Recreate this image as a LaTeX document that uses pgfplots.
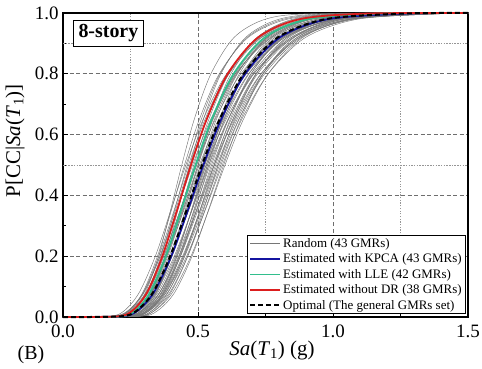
\documentclass[border=0pt]{standalone}
\usepackage{fontspec}
\setmainfont{Liberation Serif}
\usepackage{pgfplots}
\pgfplotsset{compat=1.18}
\definecolor{kpca}{RGB}{20,20,160}
\definecolor{lle}{RGB}{50,190,140}
\definecolor{ndr}{RGB}{220,30,30}
\definecolor{rndc}{RGB}{118,118,118}
\definecolor{gridc}{RGB}{110,110,110}
\definecolor{mgridc}{RGB}{150,150,150}
\begin{document}
\begin{tikzpicture}
\useasboundingbox (-63bp,-52bp) rectangle (419bp,317bp);
\begin{axis}[
 at={(0,0)}, anchor=south west,
 scale only axis, width=405bp, height=304bp,
 xmin=0, xmax=1.5, ymin=0, ymax=1,
 xtick={0,0.5,1,1.5}, ytick={0,0.2,0.4,0.6,0.8,1},
 minor x tick num=1, minor y tick num=1,
 tick align=inside, xtick pos=bottom, ytick pos=left,
 major tick length=5bp, minor tick length=3bp,
 tick style={black, line width=0.8bp},
 axis line style={line width=1.1bp},
 xmajorgrids, ymajorgrids, xminorgrids,
 major grid style={gridc, line width=0.6bp, dash pattern=on 4bp off 2.5bp},
 minor grid style={mgridc, line width=0.5bp, dash pattern=on 1.2bp off 1.5bp},
 extra y ticks={0.5,0.9}, extra y tick labels={},
 extra y tick style={grid=major, major grid style={mgridc, line width=0.5bp, dash pattern=on 1.5bp off 1.2bp}, major tick length=0pt},
 xticklabel={\pgfmathprintnumber[fixed,fixed zerofill,precision=1,assume math mode=true]{\tick}},
 yticklabel={\pgfmathprintnumber[fixed,fixed zerofill,precision=1,assume math mode=true]{\tick}},
 ticklabel style={font=\fontsize{19}{21}\selectfont},
 xticklabel style={yshift=-4bp},
 yticklabel style={xshift=-1bp},
 label style={font=\fontsize{21}{23}\selectfont},
 xlabel={\textit{Sa}(\textit{T}\textsubscript{1}) (g)},
 ylabel={P[CC|\textit{Sa}(\textit{T}\textsubscript{1})]},
 xlabel style={at={(axis description cs:0.516,-0.11)}, anchor=center},
 ylabel style={at={(axis description cs:-0.118,0.58)}, anchor=center},
 legend style={at={(axis description cs:0.995,0.01)}, anchor=south east, draw=black, line width=0.6bp, font=\fontsize{13}{15}\selectfont, inner xsep=2bp, inner ysep=1bp, row sep=1bp, cells={anchor=west}},
 legend image code/.code={\draw[#1] (0bp,0bp) -- (30bp,0bp);},
 clip=false,
 rnd/.style={rndc, line width=0.45bp, smooth},
 hi/.style={line width=1.8bp, smooth},
]
\addplot[rnd] coordinates {(0,0) (0.190,0.002) (0.243,0.02) (0.295,0.08) (0.350,0.2) (0.401,0.35) (0.450,0.5) (0.505,0.65) (0.579,0.8) (0.686,0.92) (0.833,0.98) (1.067,0.998) (1.5,1)};
\addlegendentry{Random (43 GMRs)}
\addplot[rnd,forget plot] coordinates {(0,0) (0.205,0.002) (0.259,0.02) (0.310,0.08) (0.363,0.2) (0.413,0.35) (0.460,0.5) (0.512,0.65) (0.582,0.8) (0.682,0.92) (0.818,0.98) (1.030,0.998) (1.5,1)};
\addplot[rnd,forget plot] coordinates {(0,0) (0.185,0.002) (0.241,0.02) (0.297,0.08) (0.355,0.2) (0.411,0.35) (0.465,0.5) (0.526,0.65) (0.609,0.8) (0.729,0.92) (0.897,0.98) (1.168,0.998) (1.5,1)};
\addplot[rnd,forget plot] coordinates {(0,0) (0.222,0.002) (0.276,0.02) (0.326,0.08) (0.378,0.2) (0.425,0.35) (0.470,0.5) (0.520,0.65) (0.585,0.8) (0.677,0.92) (0.802,0.98) (0.993,0.998) (1.5,1)};
\addplot[rnd,forget plot] coordinates {(0,0) (0.200,0.002) (0.257,0.02) (0.312,0.08) (0.369,0.2) (0.423,0.35) (0.475,0.5) (0.533,0.65) (0.612,0.8) (0.724,0.92) (0.880,0.98) (1.126,0.998) (1.5,1)};
\addplot[rnd,forget plot] coordinates {(0,0) (0.180,0.002) (0.239,0.02) (0.298,0.08) (0.360,0.2) (0.421,0.35) (0.480,0.5) (0.547,0.65) (0.639,0.8) (0.774,0.92) (0.965,0.98) (1.277,0.998) (1.5,1)};
\addplot[rnd,forget plot] coordinates {(0,0) (0.217,0.002) (0.273,0.02) (0.327,0.08) (0.383,0.2) (0.435,0.35) (0.485,0.5) (0.540,0.65) (0.614,0.8) (0.719,0.92) (0.862,0.98) (1.086,0.998) (1.5,1)};
\addplot[rnd,forget plot] coordinates {(0,0) (0.195,0.002) (0.254,0.02) (0.313,0.08) (0.374,0.2) (0.433,0.35) (0.490,0.5) (0.554,0.65) (0.642,0.8) (0.768,0.92) (0.946,0.98) (1.231,0.998) (1.5,1)};
\addplot[rnd,forget plot] coordinates {(0,0) (0.209,0.002) (0.267,0.02) (0.325,0.08) (0.385,0.2) (0.441,0.35) (0.495,0.5) (0.556,0.65) (0.637,0.8) (0.755,0.92) (0.917,0.98) (1.174,0.998) (1.5,1)};
\addplot[rnd,forget plot] coordinates {(0,0) (0.237,0.002) (0.293,0.02) (0.347,0.08) (0.402,0.2) (0.452,0.35) (0.500,0.5) (0.553,0.65) (0.622,0.8) (0.721,0.92) (0.853,0.98) (1.057,0.998) (1.5,1)};
\addplot[rnd,forget plot] coordinates {(0,0) (0.190,0.002) (0.251,0.02) (0.313,0.08) (0.379,0.2) (0.443,0.35) (0.505,0.5) (0.576,0.65) (0.672,0.8) (0.814,0.92) (1.015,0.98) (1.344,0.998) (1.5,1)};
\addplot[rnd,forget plot] coordinates {(0,0) (0.228,0.002) (0.287,0.02) (0.344,0.08) (0.403,0.2) (0.458,0.35) (0.510,0.5) (0.568,0.65) (0.646,0.8) (0.756,0.92) (0.906,0.98) (1.142,0.998) (1.5,1)};
\addplot[rnd,forget plot] coordinates {(0,0) (0.205,0.002) (0.267,0.02) (0.329,0.08) (0.393,0.2) (0.455,0.35) (0.515,0.5) (0.583,0.65) (0.674,0.8) (0.807,0.92) (0.994,0.98) (1.294,0.998) (1.5,1)};
\addplot[rnd,forget plot] coordinates {(0,0) (0.219,0.002) (0.281,0.02) (0.341,0.08) (0.404,0.2) (0.463,0.35) (0.520,0.5) (0.584,0.65) (0.669,0.8) (0.793,0.92) (0.963,0.98) (1.233,0.998) (1.5,1)};
\addplot[rnd,forget plot] coordinates {(0,0) (0.248,0.002) (0.308,0.02) (0.364,0.08) (0.422,0.2) (0.475,0.35) (0.525,0.5) (0.580,0.65) (0.653,0.8) (0.757,0.92) (0.896,0.98) (1.110,0.998) (1.5,1)};
\addplot[rnd,forget plot] coordinates {(0,0) (0.199,0.002) (0.264,0.02) (0.329,0.08) (0.398,0.2) (0.465,0.35) (0.530,0.5) (0.604,0.65) (0.706,0.8) (0.855,0.92) (1.066,0.98) (1.410,0.998) (1.5,1)};
\addplot[rnd,forget plot] coordinates {(0,0) (0.237,0.002) (0.298,0.02) (0.358,0.08) (0.419,0.2) (0.476,0.35) (0.530,0.5) (0.590,0.65) (0.671,0.8) (0.785,0.92) (0.942,0.98) (1.186,0.998) (1.5,1)};
\addplot[rnd,forget plot] coordinates {(0,0) (0.226,0.002) (0.289,0.02) (0.351,0.08) (0.416,0.2) (0.477,0.35) (0.535,0.5) (0.600,0.65) (0.689,0.8) (0.816,0.92) (0.991,0.98) (1.269,0.998) (1.5,1)};
\addplot[rnd,forget plot] coordinates {(0,0) (0.215,0.002) (0.280,0.02) (0.344,0.08) (0.412,0.2) (0.477,0.35) (0.540,0.5) (0.611,0.65) (0.707,0.8) (0.847,0.92) (1.042,0.98) (1.356,0.998) (1.5,1)};
\addplot[rnd,forget plot] coordinates {(0,0) (0.255,0.002) (0.317,0.02) (0.375,0.08) (0.434,0.2) (0.489,0.35) (0.540,0.5) (0.597,0.65) (0.672,0.8) (0.778,0.92) (0.921,0.98) (1.141,0.998) (1.5,1)};
\addplot[rnd,forget plot] coordinates {(0,0) (0.230,0.002) (0.294,0.02) (0.358,0.08) (0.423,0.2) (0.486,0.35) (0.545,0.5) (0.612,0.65) (0.702,0.8) (0.831,0.92) (1.009,0.98) (1.292,0.998) (1.5,1)};
\addplot[rnd,forget plot] coordinates {(0,0) (0.246,0.002) (0.309,0.02) (0.371,0.08) (0.435,0.2) (0.494,0.35) (0.550,0.5) (0.613,0.65) (0.696,0.8) (0.815,0.92) (0.978,0.98) (1.231,0.998) (1.5,1)};
\addplot[rnd,forget plot] coordinates {(0,0) (0.192,0.002) (0.254,0.02) (0.316,0.08) (0.383,0.2) (0.447,0.35) (0.510,0.5) (0.581,0.65) (0.679,0.8) (0.822,0.92) (1.025,0.98) (1.357,0.998) (1.5,1)};
\addplot[rnd,forget plot] coordinates {(0,0) (0.234,0.002) (0.300,0.02) (0.364,0.08) (0.431,0.2) (0.494,0.35) (0.555,0.5) (0.623,0.65) (0.715,0.8) (0.846,0.92) (1.028,0.98) (1.316,0.998) (1.5,1)};
\addplot[rnd,forget plot] coordinates {(0,0) (0.223,0.002) (0.290,0.02) (0.357,0.08) (0.428,0.2) (0.495,0.35) (0.560,0.5) (0.633,0.65) (0.733,0.8) (0.878,0.92) (1.081,0.98) (1.407,0.998) (1.5,1)};
\addplot[rnd,forget plot] coordinates {(0,0) (0.265,0.002) (0.328,0.02) (0.389,0.08) (0.450,0.2) (0.507,0.35) (0.560,0.5) (0.619,0.65) (0.697,0.8) (0.807,0.92) (0.955,0.98) (1.184,0.998) (1.5,1)};
\addplot[rnd,forget plot] coordinates {(0,0) (0.252,0.002) (0.318,0.02) (0.381,0.08) (0.446,0.2) (0.507,0.35) (0.565,0.5) (0.629,0.65) (0.715,0.8) (0.837,0.92) (1.004,0.98) (1.265,0.998) (1.5,1)};
\addplot[rnd,forget plot] coordinates {(0,0) (0.240,0.002) (0.308,0.02) (0.374,0.08) (0.443,0.2) (0.508,0.35) (0.570,0.5) (0.640,0.65) (0.734,0.8) (0.869,0.92) (1.056,0.98) (1.352,0.998) (1.5,1)};
\addplot[rnd,forget plot] coordinates {(0,0) (0.186,0.002) (0.246,0.02) (0.307,0.08) (0.372,0.2) (0.434,0.35) (0.495,0.5) (0.564,0.65) (0.659,0.8) (0.798,0.92) (0.995,0.98) (1.317,0.998) (1.5,1)};
\addplot[rnd,forget plot] coordinates {(0,0) (0.272,0.002) (0.337,0.02) (0.399,0.08) (0.462,0.2) (0.520,0.35) (0.575,0.5) (0.636,0.65) (0.716,0.8) (0.829,0.92) (0.981,0.98) (1.215,0.998) (1.5,1)};
\addplot[rnd,forget plot] coordinates {(0,0) (0.245,0.002) (0.313,0.02) (0.381,0.08) (0.451,0.2) (0.517,0.35) (0.580,0.5) (0.651,0.65) (0.747,0.8) (0.884,0.92) (1.074,0.98) (1.375,0.998) (1.5,1)};
\addplot[rnd,forget plot] coordinates {(0,0) (0.261,0.002) (0.329,0.02) (0.395,0.08) (0.462,0.2) (0.525,0.35) (0.585,0.5) (0.652,0.65) (0.741,0.8) (0.867,0.92) (1.040,0.98) (1.310,0.998) (1.5,1)};
\addplot[rnd,forget plot] coordinates {(0,0) (0.249,0.002) (0.319,0.02) (0.387,0.08) (0.458,0.2) (0.526,0.35) (0.590,0.5) (0.662,0.65) (0.760,0.8) (0.899,0.92) (1.093,0.98) (1.399,0.998) (1.5,1)};
\addplot[rnd,forget plot] coordinates {(0,0) (0.281,0.002) (0.349,0.02) (0.413,0.08) (0.478,0.2) (0.538,0.35) (0.595,0.5) (0.658,0.65) (0.741,0.8) (0.857,0.92) (1.015,0.98) (1.258,0.998) (1.5,1)};
\addplot[rnd,forget plot] coordinates {(0,0) (0.268,0.002) (0.338,0.02) (0.405,0.08) (0.474,0.2) (0.539,0.35) (0.600,0.5) (0.668,0.65) (0.760,0.8) (0.889,0.92) (1.066,0.98) (1.343,0.998) (1.5,1)};
\addplot[rnd,forget plot] coordinates {(0,0) (0.187,0.002) (0.244,0.02) (0.300,0.08) (0.359,0.2) (0.416,0.35) (0.470,0.5) (0.532,0.65) (0.615,0.8) (0.737,0.92) (0.907,0.98) (1.181,0.998) (1.5,1)};
\addplot[rnd,forget plot] coordinates {(0,0) (0.209,0.002) (0.272,0.02) (0.335,0.08) (0.401,0.2) (0.464,0.35) (0.525,0.5) (0.594,0.65) (0.687,0.8) (0.823,0.92) (1.013,0.98) (1.319,0.998) (1.5,1)};
\addplot[rnd,forget plot] coordinates {(0,0) (0.211,0.002) (0.270,0.02) (0.328,0.08) (0.388,0.2) (0.445,0.35) (0.500,0.5) (0.561,0.65) (0.644,0.8) (0.762,0.92) (0.926,0.98) (1.186,0.998) (1.5,1)};
\addplot[rnd,forget plot] coordinates {(0,0) (0.236,0.002) (0.302,0.02) (0.367,0.08) (0.435,0.2) (0.499,0.35) (0.560,0.5) (0.629,0.65) (0.721,0.8) (0.854,0.92) (1.037,0.98) (1.328,0.998) (1.5,1)};
\addplot[rnd,forget plot] coordinates {(0,0) (0.242,0.002) (0.311,0.02) (0.377,0.08) (0.447,0.2) (0.512,0.35) (0.575,0.5) (0.645,0.65) (0.740,0.8) (0.876,0.92) (1.065,0.98) (1.363,0.998) (1.5,1)};
\addplot[rnd,forget plot] coordinates {(0,0) (0.253,0.002) (0.314,0.02) (0.371,0.08) (0.430,0.2) (0.484,0.35) (0.535,0.5) (0.591,0.65) (0.666,0.8) (0.771,0.92) (0.913,0.98) (1.131,0.998) (1.5,1)};
\addplot[rnd,forget plot] coordinates {(0,0) (0.208,0.002) (0.258,0.02) (0.305,0.08) (0.354,0.2) (0.398,0.35) (0.440,0.5) (0.486,0.65) (0.548,0.8) (0.634,0.92) (0.751,0.98) (0.930,0.998) (1.5,1)};
\addplot[rnd,forget plot] coordinates {(0,0) (0.171,0.002) (0.226,0.02) (0.282,0.08) (0.342,0.2) (0.399,0.35) (0.455,0.5) (0.519,0.65) (0.606,0.8) (0.734,0.92) (0.915,0.98) (1.211,0.998) (1.5,1)};
\addplot[hi, kpca] coordinates {(0,0) (0.213,0.002) (0.275,0.02) (0.336,0.08) (0.401,0.2) (0.462,0.35) (0.520,0.5) (0.586,0.65) (0.675,0.8) (0.804,0.92) (0.983,0.98) (1.269,0.998) (1.5,1)};
\addlegendentry{Estimated with KPCA (43 GMRs)}
\addplot[hi, lle] coordinates {(0,0) (0.207,0.002) (0.265,0.02) (0.322,0.08) (0.381,0.2) (0.437,0.35) (0.491,0.5) (0.551,0.65) (0.632,0.8) (0.748,0.92) (0.909,0.98) (1.164,0.998) (1.5,1)};
\addlegendentry{Estimated with LLE (42 GMRs)}
\addplot[hi, ndr] coordinates {(0,0) (0.200,0.002) (0.256,0.02) (0.311,0.08) (0.368,0.2) (0.422,0.35) (0.474,0.5) (0.532,0.65) (0.610,0.8) (0.723,0.92) (0.878,0.98) (1.124,0.998) (1.5,1)};
\addlegendentry{Estimated without DR (38 GMRs)}
\addplot[hi, black, line width=2bp, dash pattern=on 5bp off 3bp] coordinates {(0,0) (0.211,0.002) (0.272,0.02) (0.333,0.08) (0.397,0.2) (0.457,0.35) (0.515,0.5) (0.580,0.65) (0.669,0.8) (0.796,0.92) (0.974,0.98) (1.257,0.998) (1.5,1)};
\addlegendentry{Optimal (The general GMRs set)}
\node[draw=black, fill=white, line width=0.8bp, inner xsep=5bp, inner ysep=4bp, anchor=north west, font=\bfseries\fontsize{20}{22}\selectfont] at (axis description cs:0.025,0.977) {8-story};
\node[font=\fontsize{20}{22}\selectfont] at (axis description cs:-0.079,-0.125) {(B)};
\end{axis}
\end{tikzpicture}
\end{document}
